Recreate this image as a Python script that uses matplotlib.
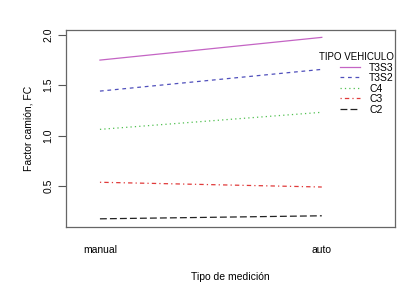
import matplotlib
matplotlib.use("Agg")
import matplotlib.pyplot as plt

plt.rcParams['font.family'] = ['Liberation Sans', 'DejaVu Sans']

x_labels = ["manual", "auto"]
series = ["T3S3", "T3S2", "C4", "C3", "C2"]
values = {
    "T3S3": [1.747, 1.972],
    "T3S2": [1.44, 1.655],
    "C4": [1.061, 1.23],
    "C3": [0.537, 0.49],
    "C2": [0.175, 0.205],
}
colors = {"T3S3": "#c464c4", "T3S2": "#5050bc", "C4": "#50c050", "C3": "#e03a3a", "C2": "#222222"}
dashes = {"T3S3": None, "T3S2": (3, 3), "C4": (1, 2.5), "C3": (1, 2.5, 3.5, 2.5), "C2": (5.5, 2.5)}
yticks = [0.5, 1.0, 1.5, 2.0]

W, H = 418, 288
fig = plt.figure(figsize=(W / 100, H / 100), dpi=100)
ax = fig.add_axes([66 / W, 1 - 227 / H, (395 - 66) / W, (227 - 30) / H])

xs = [1, 2]
handles = []
for s in series:
    kw = dict(color=colors[s], lw=0.9)
    if dashes[s] is not None:
        kw['dashes'] = dashes[s]
    ln, = ax.plot(xs, values[s], **kw, label=s)
    handles.append(ln)

ax.set_xlim(0.847, 2.33)
ax.set_ylim(0.094, 2.045)
ax.set_xticks(xs)
ax.set_xticklabels(x_labels, fontsize=7.5)
ax.tick_params(axis='x', length=0, pad=13)
ax.set_yticks(yticks)
ax.set_yticklabels([f"{v:.1f}" for v in yticks], fontsize=7.5, rotation=90, va='center')
ax.tick_params(axis='y', length=6, width=0.8, color='#555555', pad=3)
for sp in ax.spines.values():
    sp.set_color('#666666')
    sp.set_linewidth(0.9)

ax.set_xlabel("Tipo de medición", fontsize=7.5, labelpad=12)
ax.set_ylabel("Factor camión, FC", fontsize=7.5, labelpad=7)

leg = ax.legend(handles=handles, title="TIPO VEHICULO", loc='upper right',
                bbox_to_anchor=(394 / W, 1 - 52 / H), bbox_transform=fig.transFigure,
                frameon=False, fontsize=7.5, title_fontsize=7.0, handlelength=1.9,
                handletextpad=0.9, labelspacing=0.05, borderpad=0, borderaxespad=0)
leg._legend_box.align = "right"

fig.savefig("out.png", dpi=100)
